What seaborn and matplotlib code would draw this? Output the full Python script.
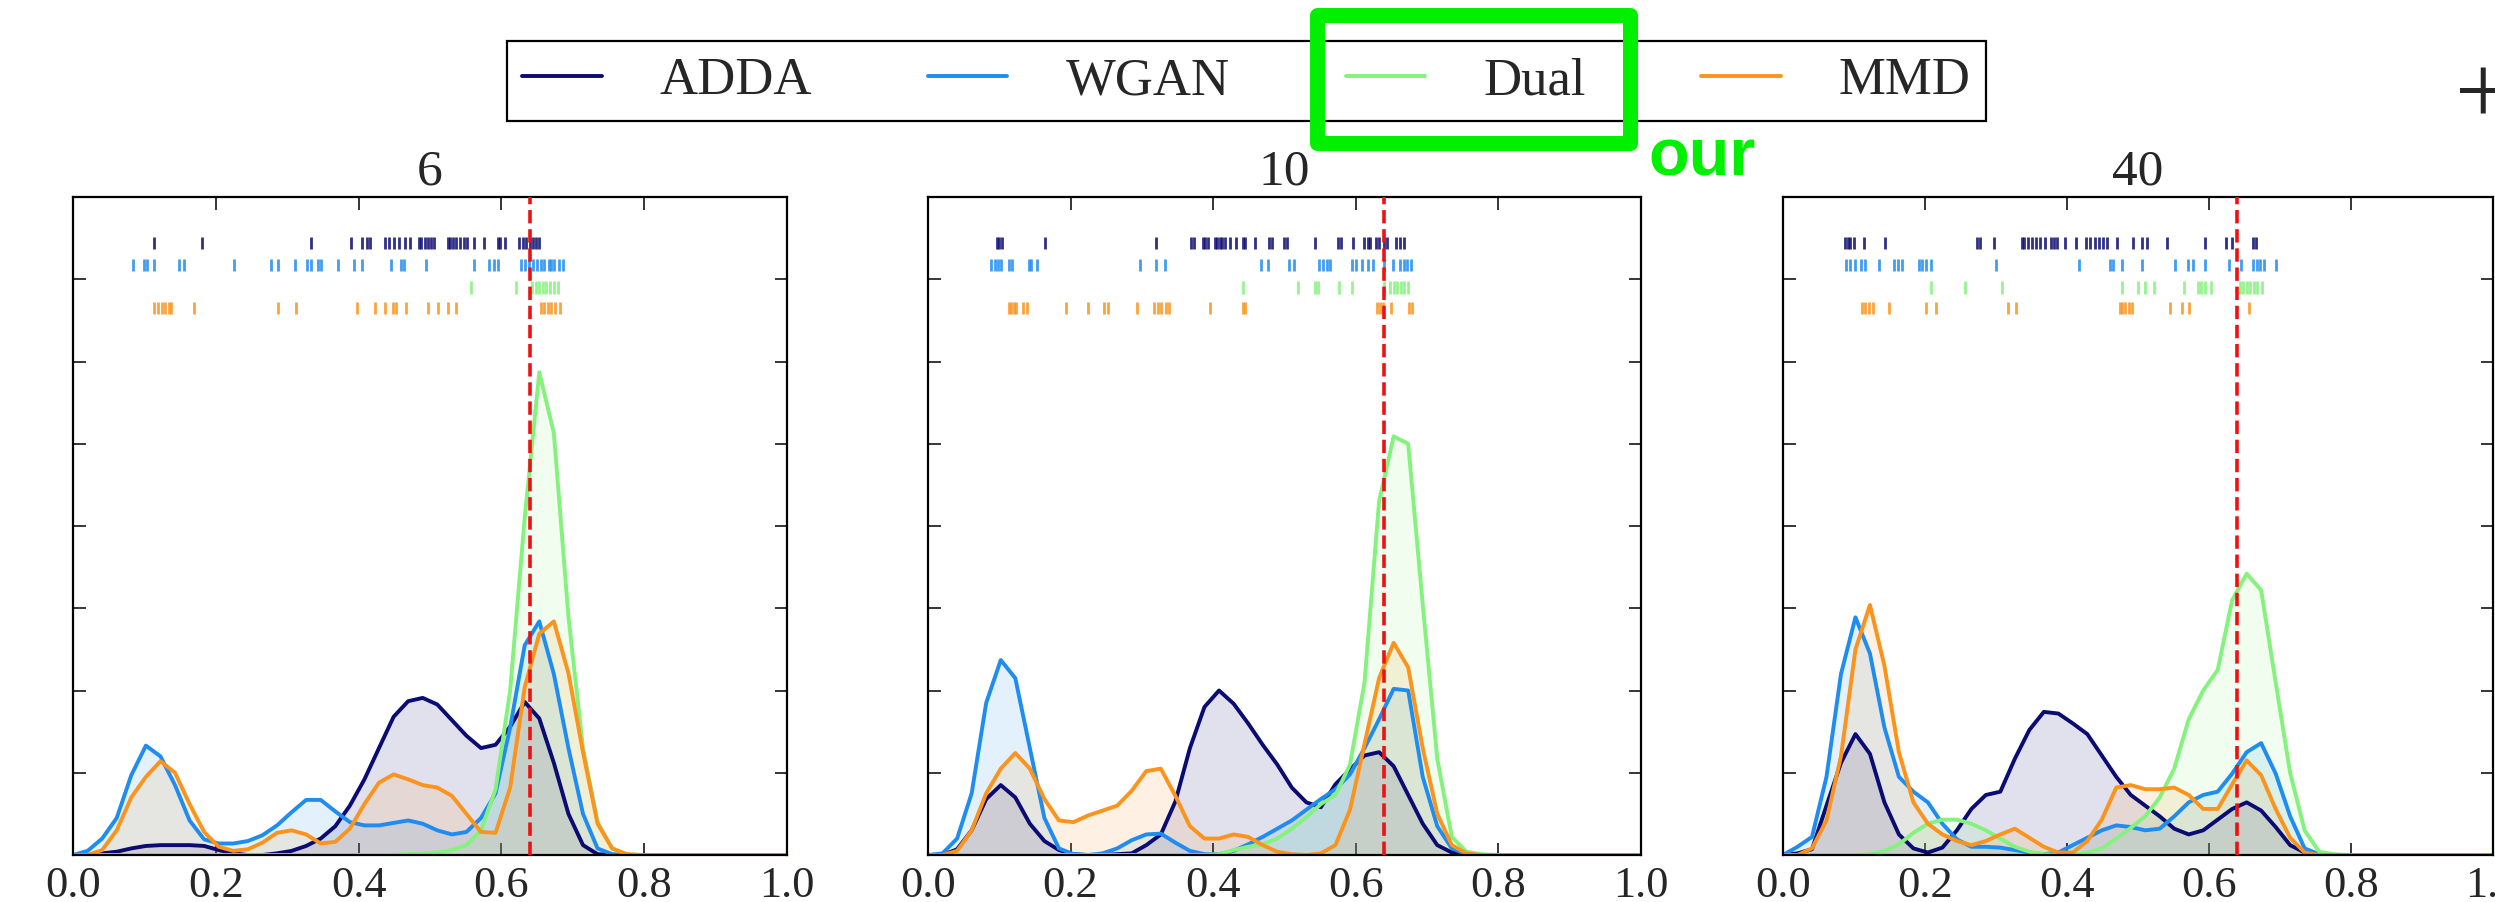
import matplotlib
matplotlib.use("Agg")
import matplotlib.pyplot as plt
from matplotlib.lines import Line2D
from matplotlib.patches import Rectangle
import numpy as np
import pandas as pd
import seaborn as sns

METHODS = ["ADDA", "WGAN", "Dual", "MMD"]
COLORS = ["#0b0b74", "#1e8cf0", "#84f27c", "#fb931c"]
PANELS = ["6", "10", "40"]
TARGET = 0.64

# KDE evaluation grid (50 points on [0, 1])
grid = np.linspace(0.0, 1.0, 50)

# ---- density curves ----
adda_6 = [0, 0, 0.02, 0.04, 0.08, 0.11, 0.12, 0.12, 0.12, 0.11, 0.06, 0.02, 0, 0, 0.02, 0.05, 0.11,
          0.2, 0.35, 0.6, 0.92, 1.3, 1.68, 1.87, 1.91, 1.83, 1.64, 1.45, 1.30, 1.34, 1.56, 1.86, 1.66,
          1.12, 0.5, 0.12, 0.01, 0, 0, 0, 0, 0, 0, 0, 0, 0, 0, 0, 0, 0]
wgan_6 = [0, 0.05, 0.2, 0.45, 0.97, 1.33, 1.2, 0.85, 0.42, 0.19, 0.14, 0.14, 0.17, 0.24, 0.36, 0.52,
          0.67, 0.67, 0.53, 0.4, 0.36, 0.36, 0.39, 0.42, 0.38, 0.3, 0.25, 0.28, 0.45, 0.75, 1.55, 2.55,
          2.84, 2.2, 1.3, 0.5, 0.08, 0.01, 0, 0, 0, 0, 0, 0, 0, 0, 0, 0, 0, 0]
dual_6 = [0, 0, 0, 0, 0, 0, 0, 0, 0, 0, 0, 0, 0, 0, 0, 0, 0, 0, 0, 0, 0, 0, 0, 0.01, 0.02, 0.03,
          0.06, 0.12, 0.3, 0.8, 2.0, 4.1, 5.87, 5.13, 2.9, 1.3, 0.4, 0.08, 0.01, 0, 0, 0, 0, 0, 0, 0,
          0, 0, 0, 0]
mmd_6 = [0, 0, 0.06, 0.3, 0.7, 0.95, 1.14, 1.0, 0.62, 0.28, 0.1, 0.05, 0.07, 0.15, 0.27, 0.3, 0.25,
         0.14, 0.16, 0.32, 0.62, 0.88, 0.98, 0.92, 0.85, 0.82, 0.72, 0.5, 0.28, 0.27, 0.82, 2.04,
         2.69, 2.84, 2.21, 1.25, 0.38, 0.08, 0.01, 0, 0, 0, 0, 0, 0, 0, 0, 0, 0, 0]

adda_10 = [0, 0, 0.07, 0.3, 0.68, 0.85, 0.7, 0.38, 0.17, 0.06, 0.01, 0, 0, 0.01, 0.02, 0.12, 0.25,
           0.65, 1.3, 1.8, 2.0, 1.84, 1.6, 1.34, 1.1, 0.82, 0.64, 0.58, 0.86, 1.04, 1.21, 1.25, 1.08,
           0.73, 0.38, 0.12, 0.03, 0.01, 0, 0, 0, 0, 0, 0, 0, 0, 0, 0, 0, 0]
wgan_10 = [0, 0.02, 0.2, 0.75, 1.85, 2.37, 2.15, 1.3, 0.45, 0.08, 0.01, 0, 0.02, 0.08, 0.18, 0.25,
           0.26, 0.15, 0.05, 0.01, 0.01, 0.05, 0.13, 0.22, 0.32, 0.42, 0.55, 0.68, 0.8, 0.98, 1.3,
           1.65, 2.02, 2.0, 0.95, 0.35, 0.08, 0.01, 0, 0, 0, 0, 0, 0, 0, 0, 0, 0, 0, 0]
dual_10 = [0, 0, 0, 0, 0, 0, 0, 0, 0, 0, 0, 0, 0, 0, 0, 0, 0, 0, 0, 0, 0.01, 0.06, 0.1, 0.13, 0.2,
           0.32, 0.46, 0.62, 0.73, 1.1, 2.1, 4.3, 5.09, 5.0, 3.05, 1.17, 0.22, 0.04, 0.01, 0, 0, 0,
           0, 0, 0, 0, 0, 0, 0, 0]
mmd_10 = [0, 0, 0.05, 0.3, 0.75, 1.05, 1.24, 1.05, 0.68, 0.42, 0.4, 0.48, 0.54, 0.6, 0.78, 1.02,
          1.05, 0.72, 0.35, 0.2, 0.2, 0.25, 0.22, 0.12, 0.04, 0.01, 0, 0.02, 0.12, 0.55, 1.35, 2.15,
          2.58, 2.28, 1.3, 0.5, 0.12, 0.02, 0, 0, 0, 0, 0, 0, 0, 0, 0, 0, 0, 0]

adda_40 = [0, 0.02, 0.07, 0.6, 1.12, 1.47, 1.23, 0.64, 0.25, 0.08, 0.03, 0.09, 0.3, 0.56, 0.73,
           0.77, 1.17, 1.52, 1.74, 1.72, 1.6, 1.47, 1.21, 0.95, 0.73, 0.6, 0.47, 0.32, 0.25, 0.3,
           0.43, 0.56, 0.64, 0.54, 0.34, 0.12, 0.03, 0, 0, 0, 0, 0, 0, 0, 0, 0, 0, 0, 0, 0]
wgan_40 = [0, 0.1, 0.22, 0.95, 2.2, 2.89, 2.45, 1.55, 0.95, 0.77, 0.64, 0.38, 0.19, 0.1, 0.1, 0.09,
           0.06, 0.03, 0.01, 0.03, 0.12, 0.21, 0.3, 0.36, 0.34, 0.3, 0.32, 0.47, 0.64, 0.73, 0.77,
           0.99, 1.25, 1.36, 0.99, 0.47, 0.08, 0.01, 0, 0, 0, 0, 0, 0, 0, 0, 0, 0, 0, 0]
dual_40 = [0, 0, 0, 0, 0, 0, 0.01, 0.05, 0.13, 0.27, 0.38, 0.43, 0.43, 0.38, 0.3, 0.2, 0.1, 0.04,
           0.01, 0, 0, 0.03, 0.08, 0.2, 0.33, 0.47, 0.7, 1.05, 1.65, 2.0, 2.25, 3.1, 3.42, 3.22, 2.1,
           1.0, 0.3, 0.04, 0.01, 0, 0, 0, 0, 0, 0, 0, 0, 0, 0, 0]
mmd_40 = [0, 0, 0.08, 0.42, 1.2, 2.5, 3.04, 2.3, 1.25, 0.64, 0.38, 0.25, 0.17, 0.12, 0.17, 0.25,
          0.32, 0.21, 0.1, 0.03, 0.03, 0.17, 0.43, 0.82, 0.85, 0.8, 0.8, 0.82, 0.73, 0.56, 0.56,
          0.86, 1.15, 0.97, 0.56, 0.21, 0.03, 0, 0, 0, 0, 0, 0, 0, 0, 0, 0, 0, 0, 0]

# ---- rug samples ----
rug_adda_6 = [0.114, 0.180, 0.334, 0.389, 0.405, 0.412, 0.416, 0.437, 0.443, 0.450, 0.457, 0.465,
              0.472, 0.485, 0.488, 0.493, 0.497, 0.502, 0.506, 0.525, 0.528, 0.532, 0.537, 0.542,
              0.547, 0.552, 0.562, 0.576, 0.595, 0.598, 0.605, 0.625, 0.630, 0.635, 0.640, 0.644,
              0.648, 0.653]
rug_wgan_6 = [0.084, 0.099, 0.103, 0.114, 0.149, 0.156, 0.225, 0.277, 0.287, 0.311, 0.328, 0.334,
              0.343, 0.347, 0.371, 0.393, 0.405, 0.445, 0.460, 0.463, 0.495, 0.561, 0.583, 0.589,
              0.595, 0.628, 0.633, 0.638, 0.644, 0.650, 0.655, 0.660, 0.666, 0.670, 0.673, 0.681,
              0.686]
rug_dual_6 = [0.557, 0.620, 0.643, 0.648, 0.653, 0.658, 0.663, 0.668, 0.673, 0.679]
rug_mmd_6 = [0.114, 0.119, 0.124, 0.129, 0.134, 0.137, 0.169, 0.287, 0.312, 0.398, 0.423, 0.437,
             0.448, 0.452, 0.467, 0.497, 0.511, 0.525, 0.537, 0.655, 0.660, 0.665, 0.670, 0.675,
             0.682]

rug_adda_10 = [0.097, 0.100, 0.104, 0.164, 0.320, 0.369, 0.373, 0.385, 0.389, 0.393, 0.402, 0.405,
               0.409, 0.412, 0.417, 0.424, 0.432, 0.442, 0.445, 0.459, 0.478, 0.483, 0.499, 0.504,
               0.543, 0.575, 0.579, 0.596, 0.612, 0.617, 0.620, 0.629, 0.633, 0.639, 0.644, 0.657,
               0.662, 0.668]
rug_wgan_10 = [0.089, 0.094, 0.098, 0.102, 0.114, 0.118, 0.142, 0.145, 0.153, 0.297, 0.320, 0.332,
               0.467, 0.477, 0.507, 0.513, 0.549, 0.554, 0.559, 0.564, 0.594, 0.600, 0.609, 0.617,
               0.624, 0.639, 0.652, 0.662, 0.667, 0.672, 0.677]
rug_dual_10 = [0.442, 0.519, 0.543, 0.547, 0.577, 0.594, 0.639, 0.648, 0.653, 0.658, 0.663, 0.668,
               0.673]
rug_mmd_10 = [0.113, 0.117, 0.120, 0.123, 0.133, 0.139, 0.193, 0.225, 0.247, 0.253, 0.293, 0.317,
              0.322, 0.327, 0.334, 0.338, 0.395, 0.442, 0.445, 0.630, 0.634, 0.638, 0.649, 0.675,
              0.679]

rug_adda_40 = [0.088, 0.091, 0.095, 0.100, 0.114, 0.144, 0.273, 0.277, 0.297, 0.336, 0.340, 0.345,
               0.350, 0.357, 0.362, 0.369, 0.378, 0.382, 0.386, 0.397, 0.412, 0.427, 0.432, 0.440,
               0.445, 0.450, 0.456, 0.470, 0.493, 0.505, 0.512, 0.541, 0.594, 0.624, 0.632, 0.662,
               0.666]
rug_wgan_40 = [0.089, 0.094, 0.101, 0.110, 0.115, 0.135, 0.157, 0.162, 0.167, 0.191, 0.196, 0.202,
               0.208, 0.300, 0.417, 0.460, 0.465, 0.477, 0.506, 0.552, 0.571, 0.577, 0.595, 0.628,
               0.645, 0.662, 0.667, 0.672, 0.677, 0.694]
rug_dual_40 = [0.209, 0.256, 0.309, 0.477, 0.500, 0.510, 0.522, 0.565, 0.584, 0.589, 0.594, 0.603,
               0.643, 0.648, 0.653, 0.658, 0.663, 0.668, 0.674]
rug_mmd_40 = [0.111, 0.115, 0.121, 0.127, 0.149, 0.201, 0.216, 0.317, 0.328, 0.474, 0.478, 0.482,
              0.487, 0.492, 0.545, 0.562, 0.572, 0.657]

DENSITIES = {
    "6": [adda_6, wgan_6, dual_6, mmd_6],
    "10": [adda_10, wgan_10, dual_10, mmd_10],
    "40": [adda_40, wgan_40, dual_40, mmd_40],
}
RUGS = {
    "6": [rug_adda_6, rug_wgan_6, rug_dual_6, rug_mmd_6],
    "10": [rug_adda_10, rug_wgan_10, rug_dual_10, rug_mmd_10],
    "40": [rug_adda_40, rug_wgan_40, rug_dual_40, rug_mmd_40],
}
RUG_ROWS = [7.44, 7.17, 6.9, 6.65]

sns.set_style("ticks")
plt.rcParams["font.family"] = ["Liberation Serif", "DejaVu Serif"]

W, H = 2495, 902
fig = plt.figure(figsize=(W / 100, H / 100), dpi=100)

# axes boxes in pixels: (left, right)
boxes = [(73, 787), (928, 1641), (1783, 2493)]
top, bottom = 197, 855
palette = dict(zip(METHODS, COLORS))

for panel, (x0, x1) in zip(PANELS, boxes):
    ax = fig.add_axes([x0 / W, 1 - bottom / H, (x1 - x0) / W, (bottom - top) / H])
    df = pd.DataFrame({
        "x": np.tile(grid, len(METHODS)),
        "density": np.concatenate(DENSITIES[panel]),
        "method": np.repeat(METHODS, len(grid)),
    })
    for m, c in zip(METHODS, COLORS):
        sub = df[df["method"] == m]
        ax.fill_between(sub["x"], sub["density"], color=c, alpha=0.12, lw=0)
    sns.lineplot(data=df, x="x", y="density", hue="method", hue_order=METHODS,
                 palette=palette, lw=2.8, estimator=None, sort=False, legend=False, ax=ax)
    ax.eventplot(RUGS[panel], lineoffsets=RUG_ROWS, linelengths=0.15, colors=COLORS,
                 linewidths=2.0, alpha=0.85)
    ax.axvline(TARGET, color="#ee1111", ls="--", lw=2.6, zorder=5)

    ax.set_xlim(0, 1)
    ax.set_ylim(0, 8)
    ax.set_xticks([0, 0.2, 0.4, 0.6, 0.8, 1.0])
    ax.set_yticks(range(9))
    ax.tick_params(direction="in", top=True, right=True, length=9, width=1.3,
                   labelsize=32, pad=8, labelleft=False)
    for s in ax.spines.values():
        s.set_linewidth(1.6)
        s.set_color("black")
    ax.set_xlabel("")
    ax.set_ylabel("")
    ax.set_title(panel, fontsize=37, pad=9)

handles = [Line2D([], [], color=c, lw=2.8) for c in COLORS]
leg = fig.legend(handles, METHODS, loc="center", bbox_to_anchor=(0.4996, 0.910), ncol=4,
                 fontsize=38, frameon=True, fancybox=False, edgecolor="black", framealpha=1,
                 handlelength=1.5, handletextpad=1.1, columnspacing=2.2, borderpad=0.3)
leg.get_frame().set_linewidth(1.6)

# highlight box around our method
fig.add_artist(Rectangle((1316.5 / W, 1 - 142.5 / H), 313 / W, 127 / H, transform=fig.transFigure,
                         fill=False, ec="#00f000", lw=10.8, joinstyle="round", zorder=10))
fig.text(1648 / W, 1 - 175 / H, "our", color="#00f000", fontsize=48, fontweight="bold",
         family="Liberation Sans", ha="left", va="baseline")
fig.text(2483 / W, 1 - 100 / H, "+", fontsize=72, ha="center", va="center")

fig.savefig("out.png", dpi=100)
